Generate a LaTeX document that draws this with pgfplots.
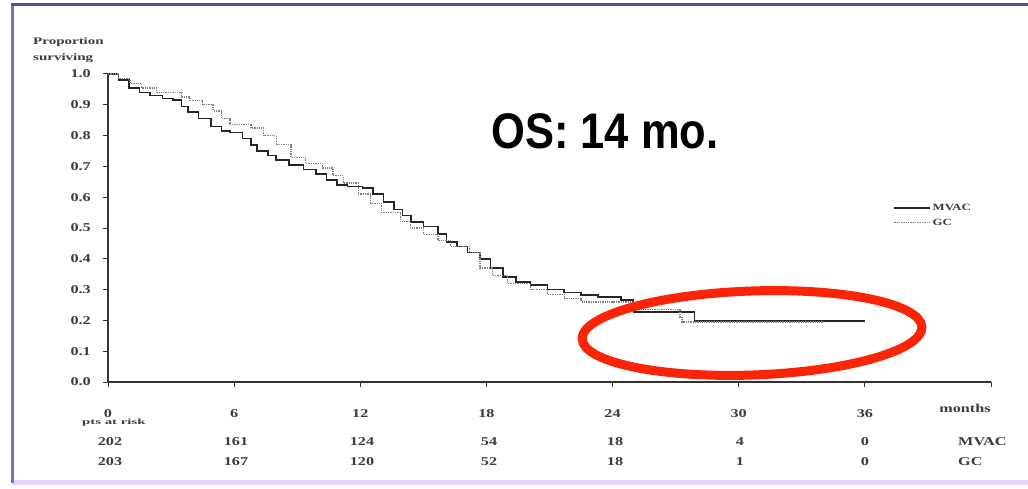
\documentclass[border=0pt]{standalone}
\usepackage{pgfplots}
\pgfplotsset{compat=1.18}
\usepackage{graphicx}
\usepackage{fontspec}
\setmainfont{Liberation Serif}
\newfontfamily\titlefont{Liberation Sans}
\definecolor{osred}{RGB}{252,36,6}
\definecolor{framepurple}{RGB}{100,72,160}
\definecolor{framelav}{RGB}{226,214,248}
\definecolor{txt}{RGB}{60,60,60}
\newcommand{\sx}[1]{\scalebox{1.35}[1]{#1}}

\begin{document}
\begin{tikzpicture}[x=1pt,y=1pt]
\useasboundingbox (0,0) rectangle (1028,488);
\fill[white] (0,0) rectangle (1028,488);
\begin{axis}[
  at={(108pt,106pt)}, anchor=south west,
  scale only axis, width=883pt, height=308pt,
  xmin=0, xmax=42, ymin=0, ymax=1,
  axis x line*=bottom, axis y line*=left,
  axis line style={-, black!80, line width=1.2pt},
  xtick={0,6,12,18,24,30,36,42},
  xticklabels={\sx{0},\sx{6},\sx{12},\sx{18},\sx{24},\sx{30},\sx{36},{}},
  ytick={0,0.1,0.2,0.3,0.4,0.5,0.6,0.7,0.8,0.9,1.0},
  yticklabels={\sx{0.0},\sx{0.1},\sx{0.2},\sx{0.3},\sx{0.4},\sx{0.5},\sx{0.6},\sx{0.7},\sx{0.8},\sx{0.9},\sx{1.0}},
  tick align=outside, major tick length=5pt,
  tick style={black!80, line width=1pt},
  ticklabel style={font=\fontsize{12}{14}\selectfont\bfseries, text=txt},
  xticklabel style={anchor=center, yshift=-27pt},
  yticklabel style={anchor=east, inner sep=0pt, xshift=-12pt},
  clip=false,
  legend style={at={(0.886,0.59)}, anchor=north west, draw=none, fill=none,
    font=\fontsize{9.5}{10}\selectfont\bfseries, text=txt, row sep=4pt,
    nodes={inner sep=1.5pt}},
  legend cell align=left,
  legend image code/.code={\draw[#1] (0pt,0pt) -- (36pt,0pt);},
]
\addplot[const plot, black!85, line width=1.6pt] coordinates {
(0,1.0) (0.5,0.98) (1.0,0.955) (1.5,0.94) (2.0,0.93) (2.6,0.92) (3.1,0.915)
(3.5,0.895) (3.8,0.877) (4.3,0.855) (4.9,0.83) (5.4,0.815) (5.8,0.81)
(6.4,0.79) (6.8,0.77) (7.1,0.75) (7.6,0.735) (8.0,0.72) (8.6,0.705)
(9.3,0.69) (9.9,0.675) (10.4,0.655) (10.9,0.64) (11.4,0.635) (12.1,0.63)
(12.6,0.61) (13.1,0.585) (13.6,0.56) (14.0,0.54) (14.4,0.52) (15.0,0.505)
(15.7,0.48) (16.1,0.455) (16.6,0.44) (17.1,0.42) (17.7,0.40) (18.2,0.37)
(18.8,0.34) (19.4,0.325) (20.1,0.315) (20.9,0.30) (21.7,0.29) (22.5,0.283)
(23.3,0.276) (24.4,0.266) (25.0,0.227) (27.9,0.198) (36.0,0.198)};
\addlegendentry{\sx{MVAC}}
\addplot[const plot, black!50, line width=1.3pt, densely dotted] coordinates {
(0,1.0) (0.5,0.985) (1.05,0.97) (1.6,0.955) (2.3,0.94) (3.1,0.94)
(3.5,0.925) (3.9,0.915) (4.5,0.9) (5.0,0.88) (5.4,0.855) (5.8,0.835)
(6.8,0.825) (7.4,0.80) (8.0,0.77) (8.7,0.73) (9.4,0.71) (10.2,0.695)
(10.7,0.67) (11.2,0.646) (11.9,0.61) (12.5,0.58) (13.0,0.55) (13.9,0.52)
(14.4,0.50) (15.0,0.48) (15.7,0.46) (16.3,0.44) (17.2,0.42) (17.7,0.37)
(18.3,0.345) (19.0,0.32) (20.1,0.30) (20.9,0.285) (21.7,0.27) (22.5,0.26)
(24.0,0.26) (25.0,0.235) (27.2,0.21) (27.3,0.195) (34.0,0.195)};
\addlegendentry{\sx{GC}}
\end{axis}
% title
\node[inner sep=0pt, font=\titlefont\bfseries\fontsize{50}{60}\selectfont] at (605,357) {\scalebox{0.87}[1]{OS: 14 mo.}};
% y label
\node[anchor=west, inner sep=0pt, text=txt, font=\fontsize{10}{12}\selectfont\bfseries] at (33,446) {\scalebox{1.5}[1]{Proportion}};
\node[anchor=west, inner sep=0pt, text=txt, font=\fontsize{10}{12}\selectfont\bfseries] at (33,430) {\scalebox{1.5}[1]{surviving}};
% x label
\node[inner sep=0pt, text=txt, font=\fontsize{12}{14}\selectfont\bfseries] at (965,80) {\sx{months}};
% numbers at risk
\node[anchor=west, inner sep=0pt, text=txt, font=\fontsize{8}{9}\selectfont\bfseries] at (82,65) {\scalebox{1.85}[1]{pts at risk}};
\begin{scope}[every node/.style={inner sep=0pt, text=txt, font=\fontsize{12}{14}\selectfont\bfseries}]
\node at (110,46) {\sx{202}};
\node at (236,46) {\sx{161}};
\node at (362,46) {\sx{124}};
\node at (489,46) {\sx{54}};
\node at (615,46) {\sx{18}};
\node at (740,46) {\sx{4}};
\node at (865,46) {\sx{0}};
\node[anchor=west] at (958,46) {\sx{MVAC}};
\node at (110,26) {\sx{203}};
\node at (236,26) {\sx{167}};
\node at (362,26) {\sx{120}};
\node at (489,26) {\sx{52}};
\node at (615,26) {\sx{18}};
\node at (740,26) {\sx{1}};
\node at (865,26) {\sx{0}};
\node[anchor=west] at (958,26) {\sx{GC}};
\end{scope}
% red ellipse
\draw[osred, line width=9pt, rotate around={2:(752,155)}] (752,155) ellipse [x radius=170, y radius=42];
% frame
\draw[framelav, line width=5pt] (12,6) -- (1028,6);
\draw[framepurple!80, line width=3pt] (12,484) -- (12,5);
\draw[framepurple, line width=3pt] (11,483) -- (1028,483);
\end{tikzpicture}
\end{document}
